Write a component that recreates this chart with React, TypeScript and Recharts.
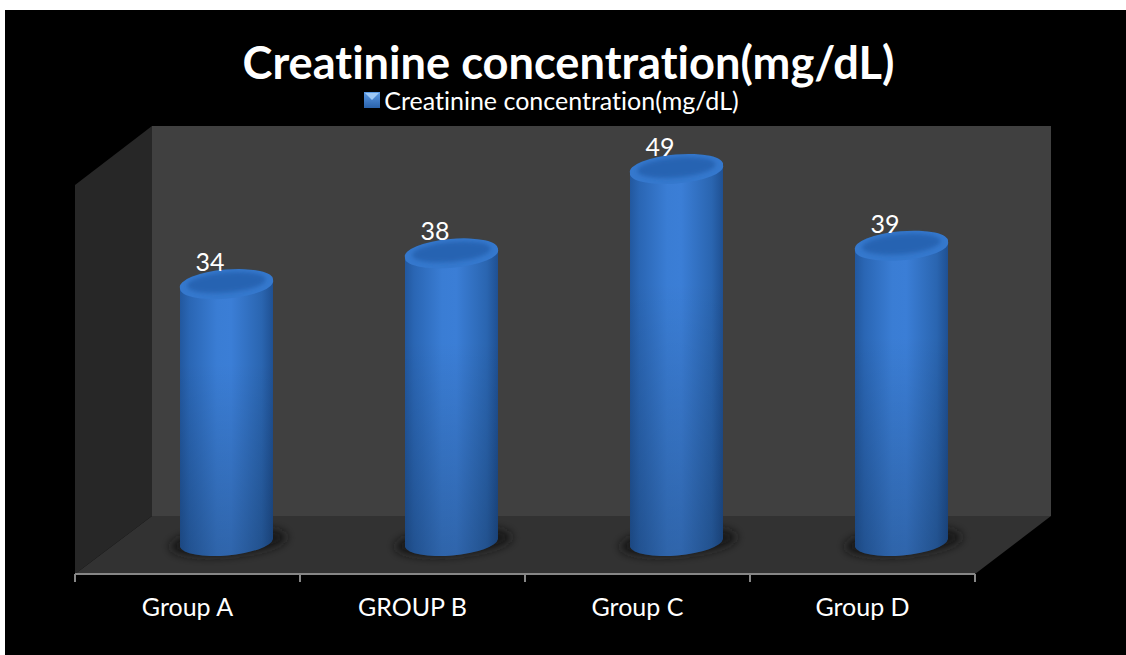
import React from 'react'
import { BarChart, Bar, XAxis, YAxis, LabelList, Legend, Customized } from 'recharts'

const groups = ['Group A', 'GROUP B', 'Group C', 'Group D']
const creatinine = [34, 38, 49, 39]
const seriesName = 'Creatinine concentration(mg/dL)'

const data = groups.map((group, i) => ({ group, creatinine: creatinine[i] }))

const FONT = 'Lato, Carlito, "Open Sans", sans-serif'
const DEPTH = 39 // sideways shift of the columns, the floor runs back in perspective
const BAND = 225
const RY = 13.5
const TILT = 4

function Walls() {
  return (
    <g>
      <polygon points="147,116 1046,116 1046,506 147,506" fill="#404040" />
      <polygon points="70,175 147,116 147,506 70,564" fill="#272727" />
      <polygon points="70,564 147,506 1046,506 970,564" fill="#323232" />
    </g>
  )
}

function Defs() {
  return (
    <defs>
      <linearGradient id="body" x1="0" y1="0" x2="1" y2="0">
        <stop offset="0" stopColor="#22589f" />
        <stop offset="0.1" stopColor="#2a66b4" />
        <stop offset="0.4" stopColor="#3a7dd4" />
        <stop offset="0.55" stopColor="#3b7ed6" />
        <stop offset="0.88" stopColor="#2a65b0" />
        <stop offset="1" stopColor="#1f5092" />
      </linearGradient>
      <linearGradient id="fade" x1="0" y1="0" x2="0" y2="1">
        <stop offset="0" stopColor="#000" stopOpacity="0" />
        <stop offset="0.3" stopColor="#000" stopOpacity="0" />
        <stop offset="1" stopColor="#000" stopOpacity="0.2" />
      </linearGradient>
      <linearGradient id="swatch" x1="0" y1="0" x2="0" y2="1">
        <stop offset="0" stopColor="#5b9be6" />
        <stop offset="1" stopColor="#2a62ab" />
      </linearGradient>
      <filter id="blur" x="-30%" y="-80%" width="160%" height="260%">
        <feGaussianBlur stdDeviation="5" />
      </filter>
      <filter id="soft" x="-10%" y="-40%" width="120%" height="180%">
        <feGaussianBlur stdDeviation="2" />
      </filter>
    </defs>
  )
}

function Cylinder(props: any) {
  const { x, y, width, height } = props
  const left = x + DEPTH
  const right = left + width
  const rx = width / 2 + 0.3
  const base = y + height - 2
  const cx = left + width / 2
  const side = `M${left},${y + TILT} L${left},${base + TILT} A${rx},${RY} -5 0 0 ${right},${base - TILT} L${right},${y - TILT} A${rx},${RY} -5 0 1 ${left},${y + TILT} Z`
  const lid = `M${left},${y + TILT} A${rx},${RY} -5 1 1 ${right},${y - TILT} A${rx},${RY} -5 1 1 ${left},${y + TILT} Z`
  return (
    <g>
      <ellipse cx={cx + 2} cy={base - 1} rx={width / 2 + 12} ry={RY} fill="#141414" filter="url(#blur)" transform={`rotate(-5 ${cx} ${base})`} />
      <path d={side} fill="url(#body)" />
      <path d={side} fill="url(#fade)" />
      <path d={lid} fill="#3578cd" />
      <ellipse cx={cx} cy={y - 1.5} rx={width / 2 - 7} ry={RY - 3.5} fill="#2664b2" filter="url(#soft)" transform={`rotate(-5 ${cx} ${y})`} />
    </g>
  )
}

function ValueLabel(props: any) {
  const { x, y, value } = props
  return (
    <text x={x + DEPTH + 30} y={y - 13} textAnchor="middle" fill="#fff" fontSize={25} fontFamily={FONT}>
      {value}
    </text>
  )
}

// ticks sit on the category edges in the reference, not under the labels
function GroupTick(props: any) {
  const { x, y, payload, index } = props
  const edge = x - BAND / 2
  return (
    <g>
      <line x1={edge} x2={edge} y1={y - 16} y2={y - 8} stroke="#868686" strokeWidth={2} />
      {index === groups.length - 1 && (
        <line x1={edge + BAND} x2={edge + BAND} y1={y - 16} y2={y - 8} stroke="#868686" strokeWidth={2} />
      )}
      <text x={x} y={y + 26} textAnchor="middle" fill="#fff" fontSize={25} fontFamily={FONT} style={{ fontVariantLigatures: 'none' }}>
        {payload.value}
      </text>
    </g>
  )
}

function LegendLine() {
  return (
    <div style={{ display: 'flex', justifyContent: 'center', alignItems: 'center', color: '#fff', fontFamily: FONT, fontSize: 25, lineHeight: '26px', fontVariantLigatures: 'none', position: 'relative', left: -14 }}>
      <svg width={16} height={16} style={{ marginRight: 4 }}>
        <rect width={16} height={16} fill="url(#swatch)" />
        <polygon points="1,1 15,1 8,8" fill="#9cc7f5" />
      </svg>
      {seriesName}
    </div>
  )
}

export default function App() {
  return (
    <div style={{ position: 'absolute', left: 0, top: 0, width: 1126, height: 655, background: '#fff', overflow: 'hidden' }}>
      <div style={{ position: 'absolute', left: 5, top: 10, width: 1121, height: 645, background: '#000' }}>
        <div style={{ position: 'absolute', left: 3, top: 31, width: '100%', textAlign: 'center', color: '#fff', fontFamily: FONT, fontWeight: 700, fontSize: 45.2, lineHeight: '42px', fontVariantLigatures: 'none', zIndex: 1 }}>
          {seriesName}
        </div>
        <BarChart
          width={1121}
          height={645}
          data={data}
          margin={{ top: 90, right: 151, bottom: 0, left: 70 }}
          barCategoryGap={66}
          style={{ position: 'absolute', left: 0, top: 0 }}
        >
          <Defs />
          <Customized component={Walls} />
          <YAxis hide type="number" domain={[-3.78, 54.6]} />
          <XAxis
            dataKey="group"
            height={81}
            axisLine={{ stroke: '#868686', strokeWidth: 2 }}
            tickLine={false}
            tick={<GroupTick />}
            tickSize={8}
            tickMargin={8}
            interval={0}
          />
          <Legend verticalAlign="top" content={<LegendLine />} wrapperStyle={{ top: 77, left: 0, width: 1121 }} />
          <Bar dataKey="creatinine" name={seriesName} shape={<Cylinder />} isAnimationActive={false}>
            <LabelList dataKey="creatinine" content={<ValueLabel />} />
          </Bar>
        </BarChart>
      </div>
    </div>
  )
}
